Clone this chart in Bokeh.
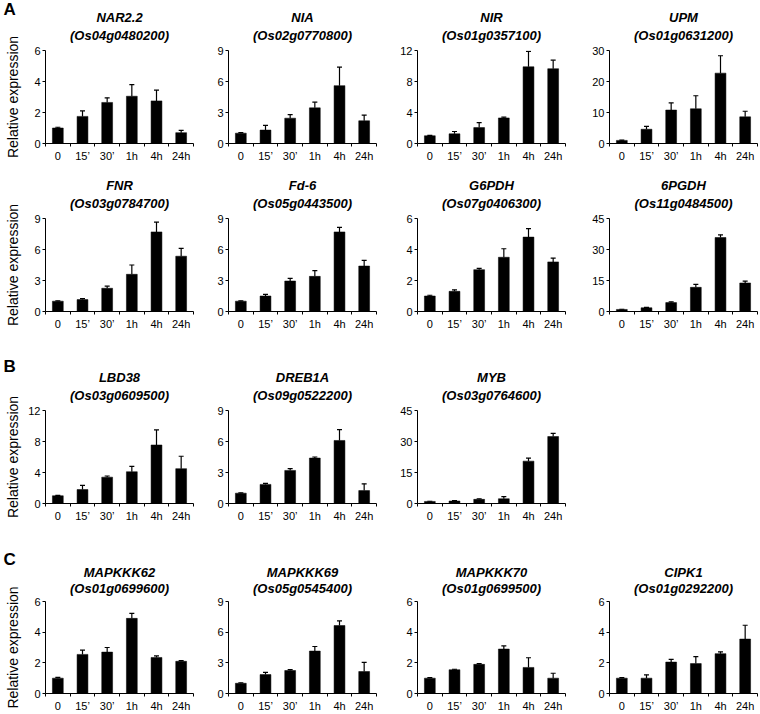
from bokeh.plotting import figure
from bokeh.layouts import column, row
from bokeh.models import Range1d, FixedTicker, Whisker, TeeHead, ColumnDataSource, Title
from bokeh.embed import file_html
from bokeh.resources import INLINE

# ---------------- data ----------------
times = ["0", "15\u2019", "30\u2019", "1h", "4h", "24h"]

genes = ["NAR2.2", "NIA", "NIR", "UPM",
         "FNR", "Fd-6", "G6PDH", "6PGDH",
         "LBD38", "DREB1A", "MYB",
         "MAPKKK62", "MAPKKK69", "MAPKKK70", "CIPK1"]
gene_ids = ["Os04g0480200", "Os02g0770800", "Os01g0357100", "Os01g0631200",
            "Os03g0784700", "Os05g0443500", "Os07g0406300", "Os11g0484500",
            "Os03g0609500", "Os09g0522200", "Os03g0764600",
            "Os01g0699600", "Os05g0545400", "Os01g0699500", "Os01g0292200"]
y_max = [6, 9, 12, 30, 9, 9, 6, 45, 12, 9, 45, 6, 9, 6, 6]

nar22 = [1.0, 1.75, 2.65, 3.05, 2.75, 0.7]
nar22_err = [0.05, 0.35, 0.3, 0.75, 0.7, 0.15]
nia = [1.0, 1.3, 2.45, 3.45, 5.6, 2.2]
nia_err = [0.05, 0.45, 0.35, 0.55, 1.8, 0.55]
nir = [1.0, 1.25, 2.05, 3.3, 9.9, 9.65]
nir_err = [0.05, 0.3, 0.65, 0.1, 2.0, 1.1]
upm = [1.0, 4.6, 10.8, 11.2, 22.7, 8.6]
upm_err = [0.1, 0.9, 2.3, 4.2, 5.6, 1.8]
fnr = [1.0, 1.15, 2.25, 3.6, 7.7, 5.35]
fnr_err = [0.03, 0.1, 0.2, 0.9, 0.95, 0.75]
fd6 = [1.0, 1.5, 2.95, 3.4, 7.7, 4.4]
fd6_err = [0.03, 0.15, 0.25, 0.55, 0.45, 0.55]
g6pdh = [1.0, 1.3, 2.7, 3.5, 4.8, 3.2]
g6pdh_err = [0.05, 0.1, 0.08, 0.55, 0.55, 0.25]
pgdh6 = [1.0, 1.8, 4.3, 11.7, 35.8, 13.8]
pgdh6_err = [0.1, 0.2, 0.4, 1.4, 1.3, 0.9]
lbd38 = [1.0, 1.8, 3.4, 4.1, 7.55, 4.5]
lbd38_err = [0.05, 0.55, 0.15, 0.7, 1.95, 1.6]
dreb1a = [1.0, 1.85, 3.2, 4.4, 6.1, 1.25]
dreb1a_err = [0.03, 0.1, 0.17, 0.1, 1.05, 0.65]
myb = [1.0, 1.2, 2.0, 2.3, 20.5, 32.4]
myb_err = [0.1, 0.2, 0.3, 1.0, 1.5, 1.5]
mapkkk62 = [1.0, 2.55, 2.7, 4.9, 2.35, 2.1]
mapkkk62_err = [0.05, 0.28, 0.3, 0.33, 0.1, 0.05]
mapkkk69 = [1.0, 1.85, 2.25, 4.15, 6.65, 2.15]
mapkkk69_err = [0.05, 0.22, 0.08, 0.45, 0.45, 0.9]
mapkkk70 = [1.0, 1.55, 1.9, 2.9, 1.7, 1.0]
mapkkk70_err = [0.03, 0.03, 0.05, 0.2, 0.63, 0.32]
cipk1 = [1.0, 1.0, 2.05, 1.95, 2.6, 3.55]
cipk1_err = [0.03, 0.22, 0.18, 0.45, 0.12, 0.9]

means = [nar22, nia, nir, upm, fnr, fd6, g6pdh, pgdh6,
         lbd38, dreb1a, myb, mapkkk62, mapkkk69, mapkkk70, cipk1]
errs = [nar22_err, nia_err, nir_err, upm_err, fnr_err, fd6_err, g6pdh_err, pgdh6_err,
        lbd38_err, dreb1a_err, myb_err, mapkkk62_err, mapkkk69_err, mapkkk70_err, cipk1_err]

panel_rows = [[0, 1, 2, 3], [4, 5, 6, 7], [8, 9, 10], [11, 12, 13, 14]]
row_letters = ["A", "", "B", "C"]
y_label = "Relative expression"

# ---------------- geometry / style ----------------
FONT = "Liberation Sans"
col_lb = [45, 31, 35, 37]
col_fw = [148, 148, 148, 148]
col_rb = [4, 6, 7, 3]
row_tb = [50, 53, 65, 67]
row_bb = [22, 34, 31, 20]
FH = 93
id_standoff = [16, 16, 16, 11]
gene_standoff = [-15, -15, -15, -13]
letter_standoff = [-6.5, 0, 0, 0.5]


def make_panel(k, r, c):
    ymax = y_max[k]
    n = len(times)
    p = figure(width=col_lb[c] + col_fw[c] + col_rb[c], height=row_tb[r] + FH + row_bb[r],
               x_range=Range1d(0, n), y_range=Range1d(0, ymax), title=None,
               output_backend="svg", toolbar_location=None,
               min_border_left=col_lb[c], min_border_right=col_rb[c],
               min_border_top=row_tb[r], min_border_bottom=row_bb[r])
    p.outline_line_color = None
    p.grid.visible = False
    p.background_fill_color = "white"
    p.border_fill_color = "white"

    tstyle = dict(align="center", text_font=FONT, text_font_style="bold italic",
                  text_font_size="13px", text_color="black")
    p.add_layout(Title(text="(" + gene_ids[k] + ")", standoff=id_standoff[r], **tstyle), "above")
    p.add_layout(Title(text=genes[k], standoff=gene_standoff[r], **tstyle), "above")
    if c == 0 and row_letters[r]:
        p.add_layout(Title(text=row_letters[r], align="left", offset=-42,
                           standoff=letter_standoff[r], text_font=FONT,
                           text_font_style="bold", text_font_size="17px",
                           text_color="black"), "above")

    xs = [i + 0.5 for i in range(n)]
    upper = [m + e for m, e in zip(means[k], errs[k])]
    src = ColumnDataSource(dict(x=xs, top=means[k], upper=upper))
    p.vbar(x="x", top="top", bottom=0, width=0.44, source=src,
           fill_color="black", line_color="black", line_width=0.5)
    p.add_layout(Whisker(base="x", lower="top", upper="upper", source=src, dimension="height",
                         line_color="black", line_width=1.2,
                         upper_head=TeeHead(size=5, line_color="black", line_width=1.2),
                         lower_head=None))

    xa = p.xaxis[0]
    xa.ticker = FixedTicker(ticks=xs, minor_ticks=list(range(0, n + 1)))
    xa.major_label_overrides = {x: t for x, t in zip(xs, times)}
    xa.major_tick_line_color = None
    xa.major_tick_out = 3
    xa.major_tick_in = 0
    xa.minor_tick_in = 0
    xa.minor_tick_out = 3
    xa.minor_tick_line_color = "black"
    xa.axis_line_color = "black"
    xa.major_label_standoff = 3
    xa.major_label_text_font = FONT
    xa.major_label_text_font_size = "11px"
    xa.major_label_text_color = "black"

    ya = p.yaxis[0]
    ya.ticker = FixedTicker(ticks=[0, ymax // 3, 2 * ymax // 3, ymax])
    ya.major_tick_out = 3
    ya.major_tick_in = 0
    ya.minor_tick_line_color = None
    ya.axis_line_color = "black"
    ya.major_tick_line_color = "black"
    ya.major_label_standoff = 2
    ya.major_label_text_font = FONT
    ya.major_label_text_font_size = "11px"
    ya.major_label_text_color = "black"
    if c == 0:
        ya.axis_label = y_label
        ya.axis_label_text_font = FONT
        ya.axis_label_text_font_size = "14px"
        ya.axis_label_text_font_style = "normal"
        ya.axis_label_text_color = "black"
        ya.axis_label_standoff = 10 if ymax < 10 else 4
    return p


rows = []
for r, ks in enumerate(panel_rows):
    figs = [make_panel(k, r, c) for c, k in enumerate(ks)]
    rows.append(row(*figs, spacing=0))
layout = column(*rows, spacing=0)

open("out.html", "w").write(file_html(layout, INLINE))
